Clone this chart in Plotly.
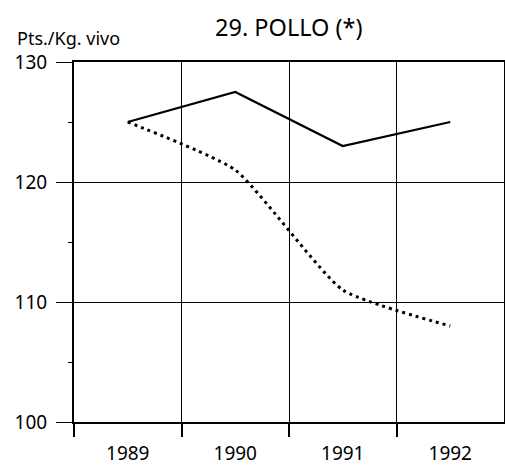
import plotly.graph_objects as go

years = [1989, 1990, 1991, 1992]
solid_values = [125, 127.5, 123, 125]
dotted_values = [125, 121, 111, 108]
y_ticks = [100, 110, 120, 130]
title_text = "29. POLLO (*)"
y_label = "Pts./Kg. vivo"

FONT = "Noto Sans"

fig = go.Figure()
fig.add_trace(go.Scatter(x=years, y=solid_values, mode="lines",
                         line=dict(color="black", width=2.2), showlegend=False))
fig.add_trace(go.Scatter(x=years, y=dotted_values, mode="lines",
                         line=dict(color="black", width=3, dash="3px,4px", shape="spline", smoothing=0.5),
                         showlegend=False))

fig.update_layout(
    width=505, height=466,
    margin=dict(l=74, r=1, t=62, b=44, autoexpand=False),
    paper_bgcolor="white", plot_bgcolor="white",
    font=dict(family=FONT, color="black", size=19),
    title=dict(text=title_text, xref="container", x=0.572, xanchor="center",
               yref="container", y=0.941, yanchor="middle",
               font=dict(size=23.5, family=FONT, color="black")),
    annotations=[dict(text=y_label, xref="paper", yref="paper", x=-0.137, y=1.068,
                      xanchor="left", yanchor="middle", showarrow=False,
                      font=dict(size=18, family=FONT, color="black"))],
)

fig.update_xaxes(
    range=[1988.5, 1992.5], tickvals=years, ticktext=[str(y) for y in years],
    ticks="", showgrid=False, zeroline=False,
    showline=True, linecolor="black", linewidth=2, mirror=True,
    tickfont=dict(size=19), ticklabelstandoff=13,
    minor=dict(tickvals=[1988.5, 1989.5, 1990.5, 1991.5], ticks="outside", ticklen=13,
               tickwidth=1.5, tickcolor="black", showgrid=True, gridcolor="black", gridwidth=1.3),
)
fig.update_yaxes(
    range=[100, 130], tickvals=y_ticks, ticks="outside", ticklen=16, tickwidth=1.3,
    tickcolor="black", showgrid=True, gridcolor="black", gridwidth=1,
    zeroline=False, showline=True, linecolor="black", linewidth=2, mirror=True,
    tickfont=dict(size=19), ticklabelstandoff=5,
    minor=dict(tickvals=[105, 115, 125], ticks="outside", ticklen=4, tickwidth=1,
               tickcolor="black", showgrid=False),
)

fig.write_html("out.html", config={"displayModeBar": False},
               post_script="document.body.style.margin='0';document.body.style.overflow='hidden';")
